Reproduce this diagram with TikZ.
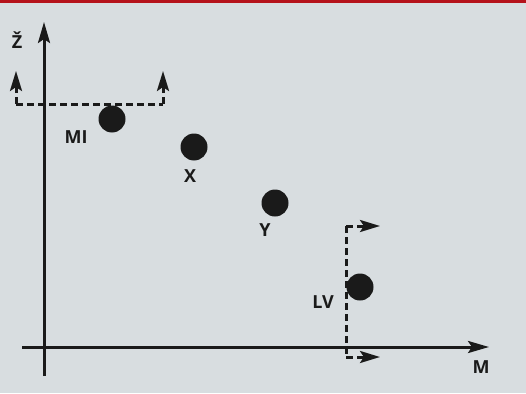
\documentclass[tikz,border=0pt]{standalone}
\usepackage{fontspec}
\setmainfont{Open Sans}
\usetikzlibrary{arrows.meta}
\definecolor{bandred}{HTML}{B5121B}
\definecolor{panel}{HTML}{D8DDE0}
\definecolor{ink}{HTML}{1A1A1A}
\begin{document}
\begin{tikzpicture}[x=1pt,y=-1pt,
  axis/.style={draw=ink,line width=3pt,-{Stealth[length=21pt,width=12pt,inset=4pt]}},
  dashline/.style={draw=ink,line width=3pt,dash pattern=on 7pt off 4pt},
  moveline/.style={dashline,-{Stealth[length=20pt,width=12pt,inset=4pt]}},
  dot/.style={circle,fill=ink,minimum size=27pt,inner sep=0pt},
  lbl/.style={font=\fontsize{18}{20}\selectfont\bfseries,text=ink,inner sep=0pt}]
  % background and top band
  \fill[panel] (0,0) rectangle (526,393);
  \fill[bandred] (0,0) rectangle (526,3.5);
  \useasboundingbox (0,0) rectangle (526,393);

  % axes
  \coordinate (yb) at (44,376);
  \coordinate (yt) at (44,22);
  \coordinate (xl) at (22,347);
  \coordinate (xr) at (489,347);
  \draw[axis] (yb) -- (yt);
  \draw[axis] (xl) -- (xr);
  \node[lbl] (zlab) at (17,40) {Ž};
  \node[lbl] (mlab) at (481,367) {M};

  % points
  \node[dot] (mi) at (112,119) {};
  \node[dot] (x) at (194,147) {};
  \node[dot] (y) at (275,203) {};
  \node[dot] (lv) at (360,287) {};
  \node[lbl] (milab) at (76,137) {MI};
  \node[lbl] (xlab) at (190,176) {X};
  \node[lbl] (ylab) at (265,230) {Y};
  \node[lbl] (lvlab) at (323,302) {LV};

  % upward shift of the MI line
  \coordinate (mil) at (16,104);
  \coordinate (mir) at (163,104);
  \coordinate (milt) at (16,71);
  \coordinate (mirt) at (163,71);
  \draw[dashline] (mil) -- (mir);
  \draw[moveline] (mil) -- (milt);
  \draw[moveline] (mir) -- (mirt);

  % rightward shift of the LV line
  \coordinate (lvt) at (346,226);
  \coordinate (lvb) at (346,357);
  \coordinate (lvtr) at (380,226);
  \coordinate (lvbr) at (380,357);
  \draw[dashline] (lvt) -- (lvb);
  \draw[moveline] (lvt) -- (lvtr);
  \draw[moveline] (lvb) -- (lvbr);
\end{tikzpicture}
\end{document}
